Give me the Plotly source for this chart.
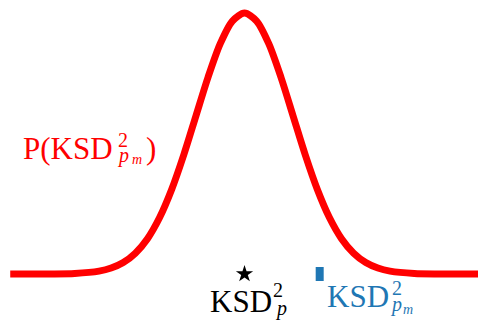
import plotly.graph_objects as go

W, H = 478, 320

# Density curve (in units of standard deviations, peak scaled to 1)
curve_x = [-4.83, -4.5, -4.0, -3.5, -3.0, -2.75, -2.5, -2.25, -2.0, -1.75, -1.5,
           -1.25, -1.0, -0.75, -0.5, -0.25, 0.0, 0.25, 0.5, 0.75, 1.0, 1.25,
           1.5, 1.75, 2.0, 2.25, 2.5, 2.75, 3.0, 3.5, 4.0, 4.5, 5.0]
curve_y = [0.0, 0.0, 0.0003, 0.0022, 0.0111, 0.0228, 0.0439, 0.0796, 0.1353,
           0.2163, 0.3247, 0.4578, 0.6065, 0.7548, 0.8825, 0.9692, 1.0, 0.9692,
           0.8825, 0.7548, 0.6065, 0.4578, 0.3247, 0.2163, 0.1353, 0.0796,
           0.0439, 0.0228, 0.0111, 0.0022, 0.0003, 0.0, 0.0]

# Observed statistic and sampled statistic
ksd_p = [0.0]
ksd_pm = [1.55]

RED = "#ff0000"
BLUE = "#1f77b4"
SERIF = "Liberation Serif"

fig = go.Figure()
fig.add_trace(go.Scatter(x=curve_x, y=curve_y, mode="lines",
                         line=dict(color=RED, width=7, shape="spline", smoothing=0.8),
                         hoverinfo="skip"))
fig.add_trace(go.Scatter(x=ksd_p, y=[0.0], mode="markers",
                         marker=dict(symbol="star", size=13, color="black",
                                     line=dict(width=0))))
fig.add_trace(go.Scatter(x=ksd_pm, y=[0.0], mode="markers",
                         marker=dict(symbol="line-ns", size=10, color=BLUE,
                                     line=dict(width=8, color=BLUE))))

annotations = []


def label(text, left_px, baseline_px, size, color):
    # place text by its left edge and baseline, given in pixels
    center = baseline_px - 0.3375 * size
    annotations.append(dict(
        text=text, xref="paper", yref="paper",
        x=(left_px - 2) / W, y=1 - center / H,
        xanchor="left", yanchor="middle", showarrow=False, borderpad=0,
        font=dict(family=SERIF, size=size, color=color)))


# P(KSD^2_{p_m})
label("P(KSD", 24, 159.3, 31, RED)
label("2", 118.5, 146.5, 20, RED)
label("<i>p</i>", 118, 162, 20, RED)
label("<i>m</i>", 132.5, 164.5, 14, RED)
label(")", 147, 159.3, 31, RED)

# KSD^2_p
label("KSD", 211, 311.7, 31, "black")
label("2", 274, 296.7, 20, "black")
label("<i>p</i>", 275.5, 315.5, 20, "black")

# KSD^2_{p_m}
label("KSD", 327.5, 306.7, 31, BLUE)
label("2", 392.5, 295, 20, BLUE)
label("<i>p</i>", 390.5, 311, 20, BLUE)
label("<i>m</i>", 403.5, 314, 14, BLUE)

fig.update_layout(
    width=W, height=H,
    margin=dict(l=0, r=0, t=0, b=0),
    paper_bgcolor="white", plot_bgcolor="white",
    showlegend=False,
    annotations=annotations,
    xaxis=dict(range=[-5.041, 4.814], visible=False, fixedrange=True),
    yaxis=dict(range=[-0.1762, 1.0498], visible=False, fixedrange=True),
)

fig.write_html("out.html")
